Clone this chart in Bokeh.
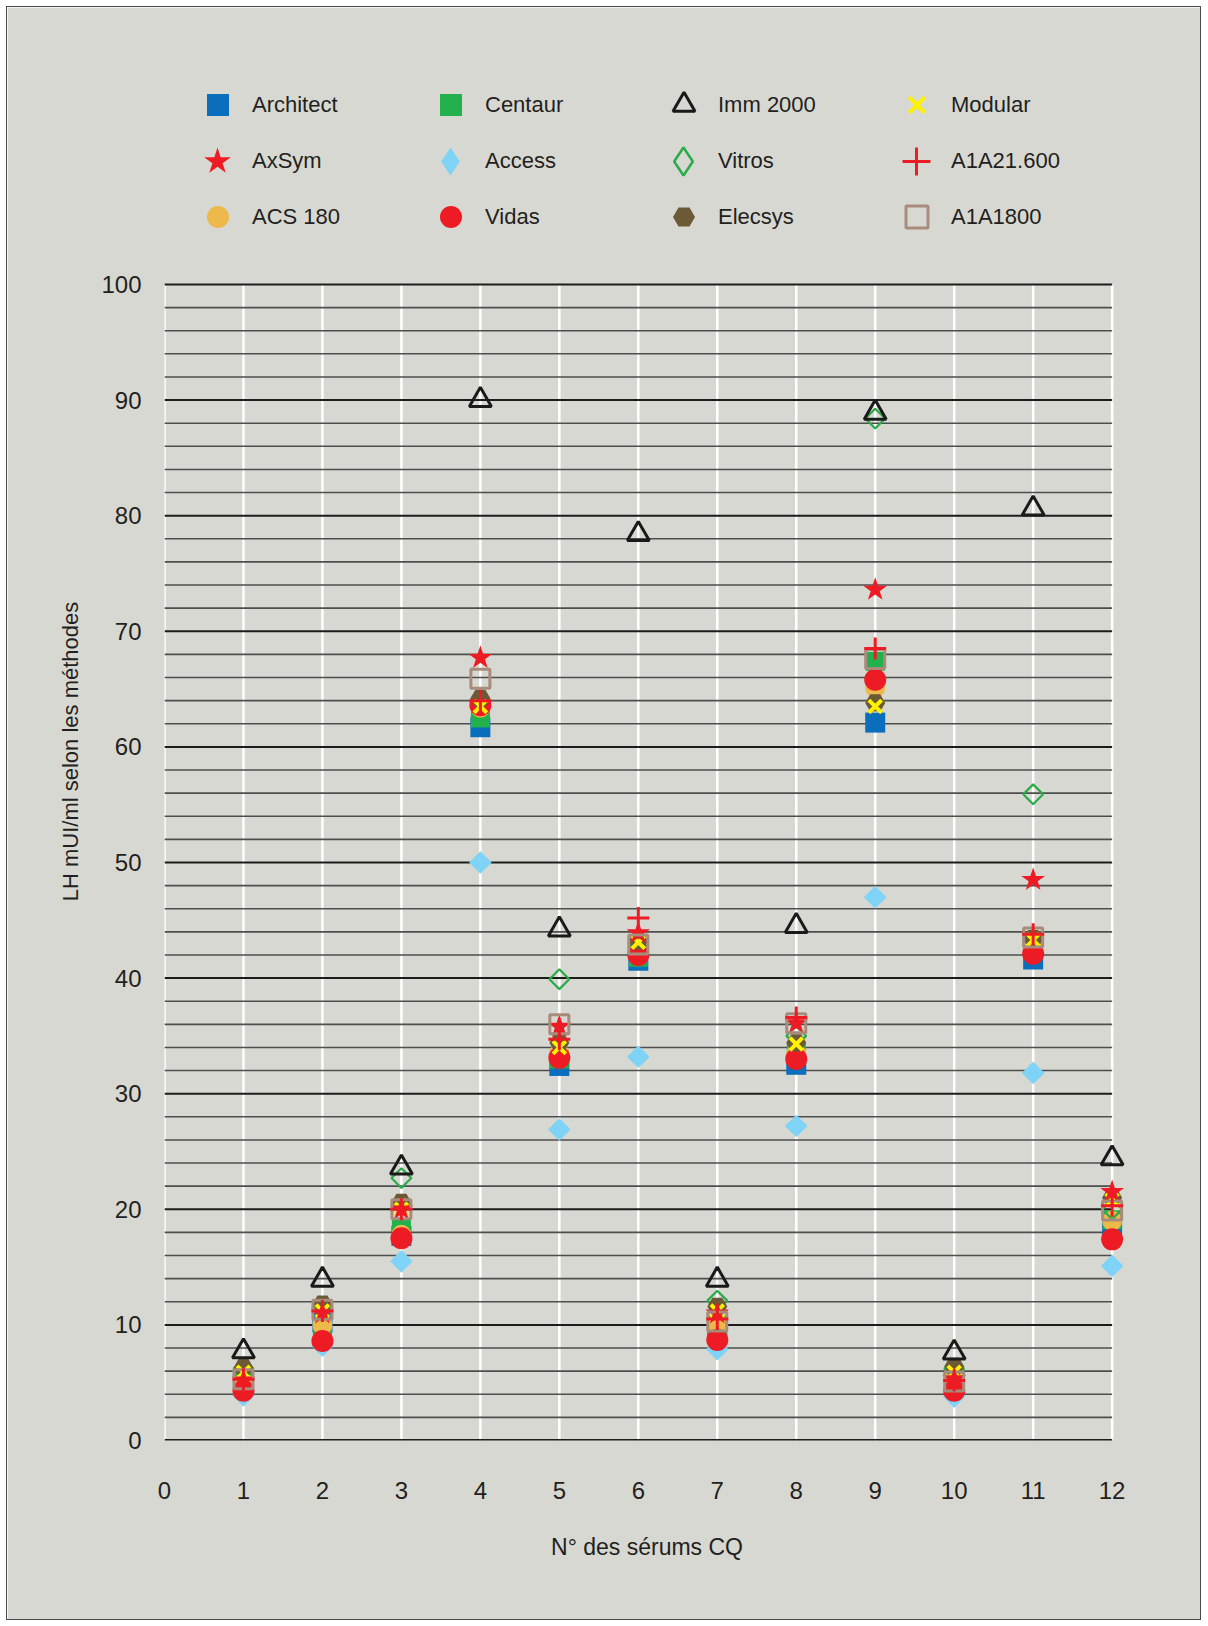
import math
from bokeh.plotting import figure
from bokeh.models import Range1d, FixedTicker, Legend, LegendItem
from bokeh.embed import file_html
from bokeh.resources import INLINE

# ---------------- data ----------------
SERUMS = [1, 2, 3, 4, 5, 6, 7, 8, 9, 10, 11, 12]
ARCHITECT = [5.0, 10.2, 17.7, 61.7, 32.4, 41.5, 9.5, 32.5, 62.1, 5.0, 41.6, 18.4]
CENTAUR = [5.6, 9.6, 18.4, 62.5, 33.0, 41.8, 10.0, 33.5, 67.4, 5.3, 42.5, 19.1]
IMM_2000 = [7.7, 13.9, 23.6, 90.0, 44.2, 78.4, 13.9, 44.5, 88.9, 7.6, 80.6, 24.4]
MODULAR = [5.9, 11.2, 20.0, 63.5, 34.0, 43.1, 11.2, 34.3, 63.5, 5.9, 43.3, 20.8]
AXSYM = [5.2, 11.0, 20.0, 67.7, 35.8, 43.9, 11.0, 36.1, 73.6, 5.3, 48.5, 21.5]
ACCESS = [3.9, 8.2, 15.5, 50.0, 26.9, 33.2, 7.9, 27.2, 47.0, 3.8, 31.8, 15.1]
VITROS = [6.2, 11.5, 22.7, 64.0, 39.9, 43.0, 12.1, 35.0, 88.4, 6.2, 55.9, 20.0]
A1A21_600 = [5.3, 11.2, 20.0, 64.0, 34.7, 45.2, 10.5, 36.6, 68.5, 5.2, 43.8, 20.3]
ACS_180 = [5.0, 10.0, 17.8, 63.4, 33.5, 42.5, 10.0, 33.5, 65.1, 5.5, 42.5, 19.0]
VIDAS = [4.3, 8.6, 17.5, 63.6, 33.1, 42.0, 8.7, 33.0, 65.8, 4.3, 42.1, 17.4]
ELECSYS = [6.3, 11.8, 20.6, 64.2, 34.4, 43.2, 11.6, 34.4, 63.8, 6.4, 43.4, 21.0]
A1A1800 = [5.3, 11.3, 20.0, 65.9, 36.0, 42.9, 10.3, 36.1, 67.6, 5.1, 43.5, 19.9]

X_TICKS = list(range(0, 13))
Y_TICKS = list(range(0, 101, 10))
GRID_Y = list(range(0, 101, 2))
X_TITLE = "N° des sérums CQ"
Y_TITLE = "LH mUI/ml selon les méthodes"
LEGEND_ROWS = [
    ["Architect", "Centaur", "Imm 2000", "Modular"],
    ["AxSym", "Access", "Vitros", "A1A21.600"],
    ["ACS 180", "Vidas", "Elecsys", "A1A1800"],
]

FONT = "Liberation Sans"
TXT = "#231F20"
BG = "#D8D8D2"

# frame extends above 100 (room for the legend) and a little right of 12
p = figure(width=1195, height=1614,
           x_range=Range1d(0, 12.22), y_range=Range1d(0, 119.2),
           output_backend="svg", toolbar_location=None,
           min_border_left=157, min_border_right=73,
           min_border_top=55, min_border_bottom=181)
p.background_fill_color = BG
p.border_fill_color = BG
p.outline_line_color = BG
p.xgrid.grid_line_color = None
p.ygrid.grid_line_color = None
p.styles = {"border": "1.5px solid #4a4a4a", "margin": "6px 0 0 6px"}

for ax in (p.xaxis, p.yaxis):
    ax.axis_line_color = None
    ax.major_tick_line_color = None
    ax.minor_tick_line_color = None
    ax.major_tick_out = 0
    ax.major_tick_in = 0
    ax.minor_tick_out = 0
    ax.major_label_text_font = FONT
    ax.major_label_text_font_size = "24px"
    ax.major_label_text_color = TXT
    ax.axis_label_text_font = FONT
    ax.axis_label_text_font_style = "normal"
    ax.axis_label_text_color = TXT
p.xaxis.ticker = FixedTicker(ticks=X_TICKS)
p.yaxis.ticker = FixedTicker(ticks=Y_TICKS)
p.xaxis.major_label_standoff = 41
p.yaxis.major_label_standoff = 23
p.xaxis.axis_label = X_TITLE
p.yaxis.axis_label = Y_TITLE
p.xaxis.axis_label_text_font_size = "23px"
p.yaxis.axis_label_text_font_size = "22px"
p.xaxis.axis_label_standoff = 32
p.yaxis.axis_label_standoff = 15

# vertical white lines
p.segment(x0=X_TICKS, y0=[0] * len(X_TICKS), x1=X_TICKS, y1=[100] * len(X_TICKS),
          line_color="white", line_width=2.5)
# horizontal grid lines
gx0 = [X_TICKS[0]] * len(GRID_Y)
gx1 = [X_TICKS[-1]] * len(GRID_Y)
gcol = ["#1c1c1c" if v % 10 == 0 else "#4e4e4e" for v in GRID_Y]
gw = [3.0 if v == 0 else (2.0 if v % 10 == 0 else 1.6) for v in GRID_Y]
p.segment(x0=gx0, y0=GRID_Y, x1=gx1, y1=GRID_Y, line_color=gcol, line_width=gw)

styles = {
    "Architect": dict(marker="square", size=20, fill_color="#0A6EBD", line_color=None),
    "Centaur": dict(marker="square", size=19, fill_color="#22B14C", line_color=None),
    "ACS 180": dict(marker="circle", size=20, fill_color="#EDB94B", line_color=None),
    "Access": dict(marker="square", size=16, angle=math.pi / 4, fill_color="#7FD3F7", line_color=None),
    "Vitros": dict(marker="square", size=14, angle=math.pi / 4, fill_color=None, line_color="#2BAA4A", line_width=2.2),
    "Vidas": dict(marker="circle", size=22, fill_color="#ED1C24", line_color=None),
    "Elecsys": dict(marker="hex", size=20, fill_color="#6B5A35", line_color=None),
    "Modular": dict(marker="x", size=18, line_color="#FFF200", line_width=4),
    "Imm 2000": dict(marker="triangle", size=22, fill_color=None, line_color="#1a1a1a", line_width=3),
    "AxSym": dict(marker="star", size=25, fill_color="#ED1C24", line_color=None),
    "A1A1800": dict(marker="square", size=19, fill_color=None, line_color="#A88B7B", line_width=3),
    "A1A21.600": dict(marker="cross", size=22, line_color="#ED1C24", line_width=3),
}
values = {
    "Architect": ARCHITECT, "Centaur": CENTAUR, "ACS 180": ACS_180, "Access": ACCESS,
    "Vitros": VITROS, "Vidas": VIDAS, "Elecsys": ELECSYS, "Modular": MODULAR,
    "Imm 2000": IMM_2000, "AxSym": AXSYM, "A1A1800": A1A1800, "A1A21.600": A1A21_600,
}
renderers = {}
for name in ["Architect", "Centaur", "ACS 180", "Access", "Vitros", "Vidas", "Elecsys",
             "Modular", "Imm 2000", "AxSym", "A1A1800", "A1A21.600"]:
    renderers[name] = p.scatter(SERUMS, values[name], **styles[name])

# legend keys: rotated squares are shown as diamonds (the legend ignores angle);
# hidden twin renderers carry the diamond key
legend_keys = dict(renderers)
legend_keys["Access"] = p.scatter(SERUMS, ACCESS, marker="diamond", fill_color="#7FD3F7",
                                  line_color=None, visible=False)
legend_keys["Vitros"] = p.scatter(SERUMS, VITROS, marker="diamond", fill_color=None,
                                  line_color="#2BAA4A", line_width=2.5, visible=False)

row_cfg = [  # (location, glyph box, label_standoff, label_width)
    ((26, 1308), 55, 7, 171),
    ((18, 1243.6), 70, 0, 163),
    ((26, 1196), 55, 7, 171),
]
for row, (loc, gbox, lstand, lwidth) in zip(LEGEND_ROWS, row_cfg):
    lg = Legend(items=[LegendItem(label=n, renderers=[legend_keys[n]]) for n in row],
                orientation="horizontal", location=loc,
                glyph_width=gbox, glyph_height=gbox, label_standoff=lstand, label_width=lwidth,
                spacing=0, padding=0, margin=0,
                background_fill_alpha=0, border_line_color=None,
                inactive_fill_alpha=0,
                label_text_font=FONT, label_text_font_size="22px", label_text_color=TXT)
    p.add_layout(lg)

open("out.html", "w").write(file_html(p, INLINE))
